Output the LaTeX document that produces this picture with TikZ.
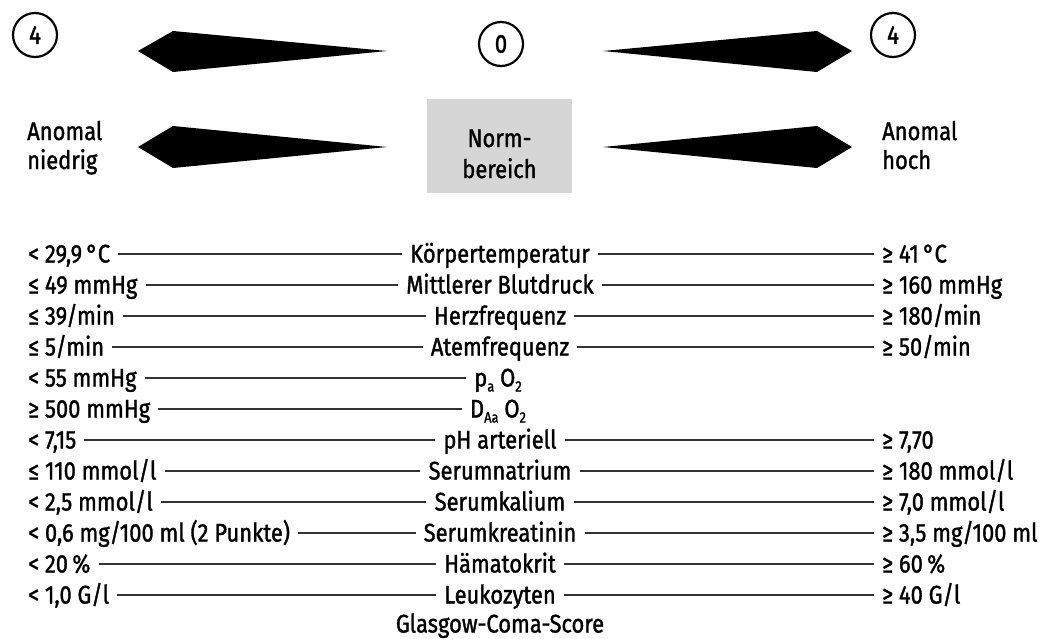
\documentclass[tikz,border=0pt]{standalone}
\usepackage{fontspec}
\setmainfont{Fira Sans}[FakeStretch=0.86,FakeBold=1.3]
\newcommand\subtxt[1]{\raisebox{-5pt}{\fontsize{15}{15}\selectfont #1}}
\begin{document}
\begin{tikzpicture}[x=1pt,y=-1pt,
  txt/.style={font=\fontsize{25.5}{30}\selectfont, inner xsep=8pt, inner ysep=0pt,
              text height=17pt, text depth=0pt},
  free/.style={font=\fontsize{25.5}{30}\selectfont, inner sep=0pt},
  rule/.style={draw=black!80, line width=1.8pt},
  score/.style={circle, draw, line width=2.2pt, minimum size=44pt, inner sep=0pt,
                font=\fontsize{26}{28}\selectfont},
  wedge/.style={fill=black}]
\useasboundingbox (0,0) rectangle (1059,638);

% score markers
\node[score] (sL) at (35,35) {4};
\node[score] (sM) at (501,44) {0};
\node[score] (sR) at (893,35) {4};

% spindle-shaped pointers
\fill[wedge] (138,51) -- (173,31) -- (387,51) -- (173,72) -- cycle;
\fill[wedge] (852,51) -- (817,31) -- (603,51) -- (817,72) -- cycle;
\fill[wedge] (138,147) -- (173,126) -- (387,147) -- (173,168) -- cycle;
\fill[wedge] (852,147) -- (817,126) -- (603,147) -- (817,168) -- cycle;

% normal range box
\node[fill=black!16, minimum width=145pt, minimum height=94pt, inner sep=0pt] (nb) at (499.5,146) {};
\node[free, anchor=base] (nb1) at (499.5,147) {Norm-};
\node[free, anchor=base] (nb2) at (499.5,178) {bereich};

% side captions
\node[free, anchor=base west] (lo1) at (27,140) {Anomal};
\node[free, anchor=base west] (lo2) at (27,169) {niedrig};
\node[free, anchor=base west] (hi1) at (882,140) {Anomal};
\node[free, anchor=base west] (hi2) at (882,169) {hoch};

% parameter rows
\node[txt] (c0) at (500,254) {Körpertemperatur};
\node[txt, anchor=west] (l0) at (20,254) {< 29,9\,°C};
\node[txt, anchor=west] (r0) at (874,254) {≥ 41\,°C};

\node[txt] (c1) at (500,285) {Mittlerer Blutdruck};
\node[txt, anchor=west] (l1) at (20,285) {≤ 49 mmHg};
\node[txt, anchor=west] (r1) at (874,285) {≥ 160 mmHg};

\node[txt] (c2) at (500,316) {Herzfrequenz};
\node[txt, anchor=west] (l2) at (20,316) {≤ 39/min};
\node[txt, anchor=west] (r2) at (874,316) {≥ 180/min};

\node[txt] (c3) at (500,347) {Atemfrequenz};
\node[txt, anchor=west] (l3) at (20,347) {≤ 5/min};
\node[txt, anchor=west] (r3) at (874,347) {≥ 50/min};

\node[txt] (c4) at (498,378) {p\subtxt{a} O\subtxt{2}};
\node[txt, anchor=west] (l4) at (20,378) {< 55 mmHg};

\node[txt] (c5) at (498,409) {D\subtxt{Aa} O\subtxt{2}};
\node[txt, anchor=west] (l5) at (20,409) {≥ 500 mmHg};

\node[txt] (c6) at (500,440) {pH arteriell};
\node[txt, anchor=west] (l6) at (20,440) {< 7,15};
\node[txt, anchor=west] (r6) at (874,440) {≥ 7,70};

\node[txt] (c7) at (500,471) {Serumnatrium};
\node[txt, anchor=west] (l7) at (20,471) {≤ 110 mmol/l};
\node[txt, anchor=west] (r7) at (874,471) {≥ 180 mmol/l};

\node[txt] (c8) at (500,502) {Serumkalium};
\node[txt, anchor=west] (l8) at (20,502) {< 2,5 mmol/l};
\node[txt, anchor=west] (r8) at (874,502) {≥ 7,0 mmol/l};

\node[txt] (c9) at (500,533) {Serumkreatinin};
\node[txt, anchor=west] (l9) at (20,533) {< 0,6 mg/100 ml (2 Punkte)};
\node[txt, anchor=west] (r9) at (874,533) {≥ 3,5 mg/100 ml};

\node[txt] (c10) at (500,564) {Hämatokrit};
\node[txt, anchor=west] (l10) at (20,564) {< 20\,\%};
\node[txt, anchor=west] (r10) at (874,564) {≥ 60\,\%};

\node[txt] (c11) at (500,595) {Leukozyten};
\node[txt, anchor=west] (l11) at (20,595) {< 1,0 G/l};
\node[txt, anchor=west] (r11) at (874,595) {≥ 40 G/l};

\node[txt] (c12) at (500,624) {Glasgow-Coma-Score};

% connecting rules
\foreach \k in {0,...,11} {\draw[rule] (l\k) -- (c\k);}
\foreach \k in {0,1,2,3,6,7,8,9,10,11} {\draw[rule] (c\k) -- (r\k);}
\end{tikzpicture}
\end{document}
